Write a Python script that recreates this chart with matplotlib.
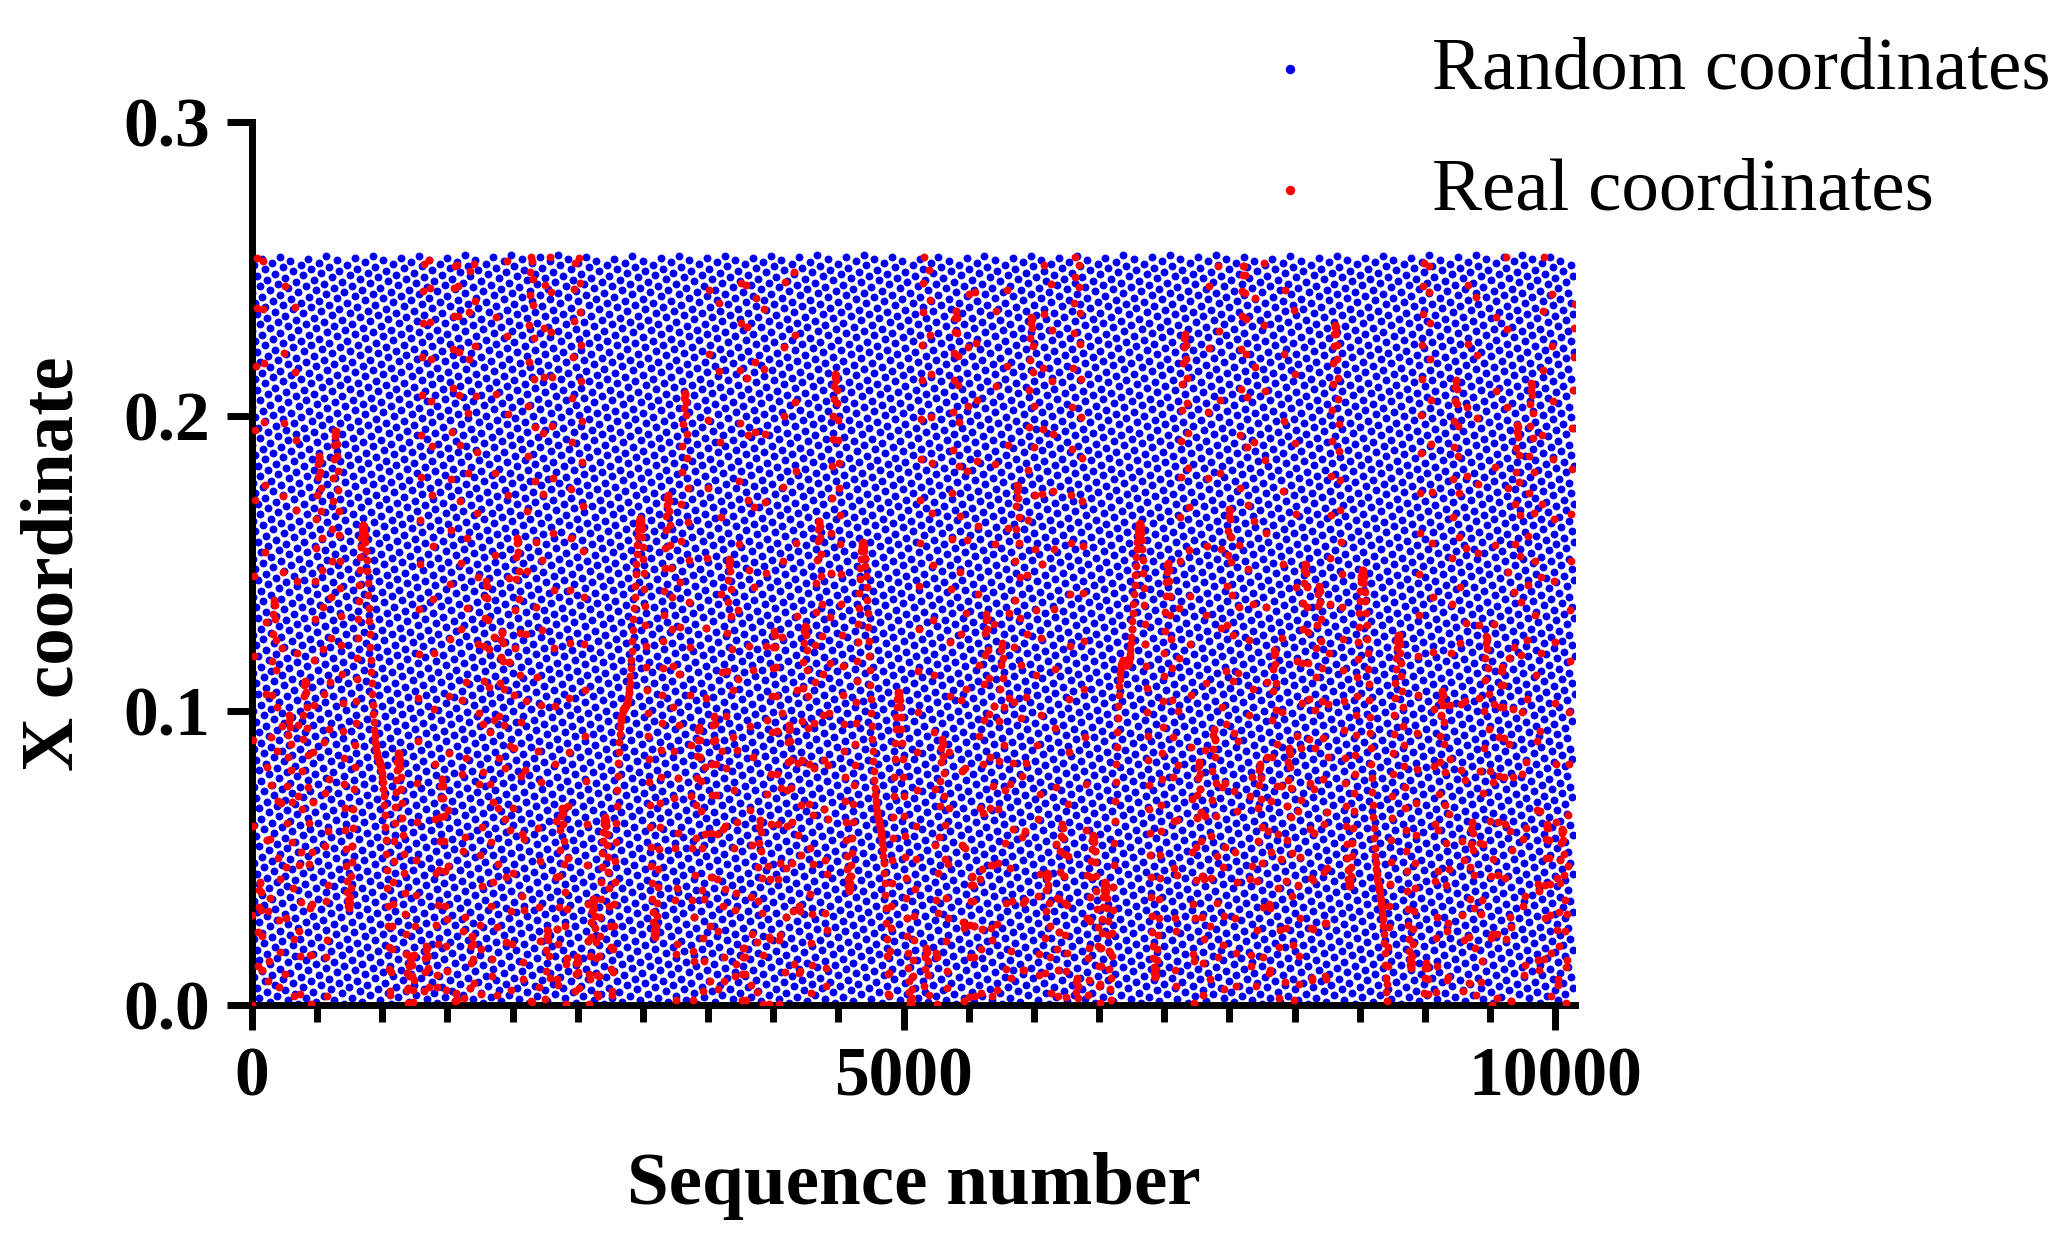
import numpy as np
import matplotlib
matplotlib.use("Agg")
import matplotlib.pyplot as plt

# Sequence indices and values (deterministic lattice sequence approximating the picture's striped pattern)
n_points = 10150
seq = np.arange(n_points)
x_max = 0.255
random_x = ((seq * 0.6180339887 * 97) % 1.0) * x_max
real_idx = seq[::4]
real_x = (np.abs(np.sin(real_idx / 37.0) * np.cos(real_idx / 611.0) + 0.5 * np.sin(real_idx / 173.0)) % 1.0) * x_max

xticks = [0, 5000, 10000]
yticks = [0.0, 0.1, 0.2, 0.3]

plt.rcParams['font.family'] = ['Liberation Serif', 'DejaVu Serif']
fig = plt.figure(figsize=(20.64, 12.48), dpi=100)
ax = fig.add_axes([0.122, 0.195, 0.641, 0.707])
ax.scatter(seq, random_x, s=32, c='#0000ee', linewidths=0, label='Random coordinates', zorder=2)
ax.scatter(real_idx, real_x, s=32, c='#ff0000', linewidths=0, label='Real coordinates', zorder=3)
ax.set_xlim(0, 10150)
ax.set_ylim(0, 0.3)
ax.set_xticks(xticks)
ax.set_xticks(np.arange(0, 10001, 500), minor=True)
ax.set_yticks(yticks)
ax.set_yticklabels(['0.0', '0.1', '0.2', '0.3'])
for s in ['top', 'right']:
    ax.spines[s].set_visible(False)
for s in ['left', 'bottom']:
    ax.spines[s].set_linewidth(5)
ax.tick_params(axis='both', which='major', length=18, width=5, labelsize=50, pad=12)
ax.tick_params(axis='x', which='minor', length=12, width=5)
for t in ax.get_xticklabels() + ax.get_yticklabels():
    t.set_fontweight('bold')
ax.set_xlabel('Sequence number', fontsize=54, fontweight='bold', labelpad=30)
ax.set_ylabel('X coordinate', fontsize=54, fontweight='bold', labelpad=25)
leg = fig.legend(loc='upper left', bbox_to_anchor=(0.574, 1.025), frameon=False, fontsize=54,
                 markerscale=1.2, handlelength=1.0, handletextpad=1.4, labelspacing=0.7)
fig.savefig('out.png', dpi=100)
